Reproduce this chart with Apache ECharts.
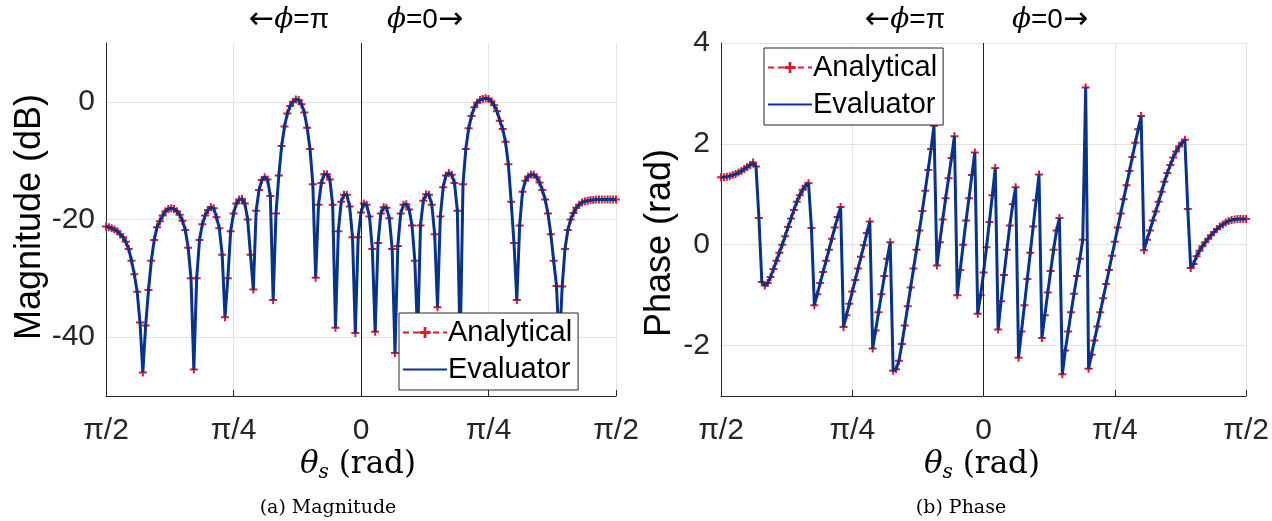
<!DOCTYPE html>
<html>
<head>
<meta charset="utf-8">
<title>Magnitude and phase</title>
<script src="https://cdn.jsdelivr.net/npm/echarts@6/dist/echarts.min.js"></script>
<style>
  html, body { margin: 0; padding: 0; background: #fff; }
  #chart { width: 1272px; height: 521px; }
</style>
</head>
<body>
<div id="chart"></div>
<script>
// steering angle grid, degrees (left half is phi = pi, right half is phi = 0)
const thetaStartDeg = -90;
const thetaStepDeg = 1;

// magnitude (dB), one value per degree from -90 to 90
const magnitudeDb = [
  -21.2, -21.3, -21.5, -21.7, -22.0, -22.5, -23.0, -23.8, -25.0, -27.0, -29.3, -32.3, -37.5,
  -46.0,
  -38.0, -32.0, -27.0, -23.5, -21.3, -20.3, -19.3, -18.6, -18.2, -18.1, -18.2, -18.6, -19.2, -20.2, -21.8, -24.8, -30.0,
  -45.5,
  -30.0, -23.5, -20.8, -19.3, -18.4, -17.9, -18.1, -19.6, -21.5, -26.0,
  -36.6,
  -30.0, -22.0, -19.0, -17.3, -16.6, -16.5, -17.3, -20.0, -26.0,
  -31.9,
  -18.5, -15.0, -13.3, -12.8, -13.2, -16.0,
  -33.7,
  -19.0, -12.5, -7.5, -4.2, -2.0, -0.7, 0.0, 0.4, 0.3, -0.4, -1.8, -4.4, -8.0, -14.0,
  -29.9,
  -17.5, -13.8, -12.3, -12.3, -13.2, -17.5,
  -38.4,
  -22.0, -17.0, -15.8, -15.8, -17.8, -23.0,
  -39.3,
  -23.0, -18.8, -17.3, -17.5, -19.5, -25.0,
  -39.1,
  -24.0, -19.0, -17.9, -18.0, -19.8, -25.0,
  -42.7,
  -24.5, -19.0, -17.5, -17.4, -18.3, -21.0, -27.0,
  -40.0,
  -21.0, -16.8, -15.7, -15.8, -17.5, -22.5,
  -34.9,
  -19.5, -14.5, -12.5, -12.1, -12.4, -13.8, -18.5,
  -42.0,
  -14.0, -8.0, -4.5, -2.4, -0.9, -0.1, 0.3, 0.5, 0.6, 0.5, 0.1, -0.6, -1.6, -3.2, -4.6, -6.8, -10.6, -17.0, -24.0,
  -33.7,
  -21.0, -15.3, -13.4, -12.7, -12.4, -12.4, -12.8, -13.7, -15.0, -16.6, -19.0, -22.5, -27.0, -31.3,
  -42.0,
  -31.4, -25.0, -21.8, -20.0, -18.9, -18.0, -17.5, -17.1, -16.9, -16.8, -16.7, -16.7, -16.6, -16.6, -16.6, -16.6, -16.6, -16.6, -16.6, -16.6
];

// phase (rad), same grid
const phaseRad = [
  1.34, 1.34, 1.35, 1.36, 1.38, 1.40, 1.43, 1.46, 1.50, 1.54, 1.58, 1.63, 1.55,
  0.53,
  -0.74, -0.81, -0.76, -0.64, -0.48, -0.32, -0.16, 0.00, 0.17, 0.35, 0.52, 0.69, 0.85, 0.98, 1.09, 1.17, 1.22,
  0.33,
  -1.20, -0.98, -0.76, -0.54, -0.32, -0.10, 0.12, 0.34, 0.55, 0.75,
  -1.63,
  -1.40, -1.17, -0.93, -0.70, -0.47, -0.24, -0.01, 0.23, 0.46,
  -2.06,
  -1.70, -1.34, -0.98, -0.62, -0.28, 0.05,
  -2.50,
  -2.47, -2.30, -1.97, -1.60, -1.22, -0.85, -0.47, -0.10, 0.28, 0.67, 1.07, 1.48, 1.90, 2.36,
  -0.41,
  0.05, 0.50, 0.92, 1.32, 1.72, 2.15,
  -1.00,
  -0.50, 0.00, 0.48, 0.92, 1.38, 1.83,
  -1.37,
  -1.00, -0.55, -0.05, 0.45, 0.98, 1.52,
  -1.68,
  -1.12, -0.60, -0.10, 0.38, 0.80, 1.14,
  -2.24,
  -1.72, -1.20, -0.68, -0.16, 0.36, 0.88, 1.39,
  -1.85,
  -1.40, -0.95, -0.52, -0.10, 0.28, 0.53,
  -2.57,
  -2.10, -1.72, -1.34, -0.97, -0.62, -0.28, 0.10,
  3.12,
  -2.46, -2.18, -1.90, -1.62, -1.34, -1.06, -0.78, -0.50, -0.22, 0.06, 0.34, 0.62, 0.90, 1.18, 1.46, 1.74, 2.02, 2.29, 2.55,
  -0.11,
  0.10, 0.28, 0.48, 0.66, 0.85, 1.05, 1.25, 1.42, 1.58, 1.73, 1.85, 1.95, 2.02, 2.08,
  0.71,
  -0.46, -0.38, -0.23, -0.12, -0.03, 0.05, 0.12, 0.19, 0.25, 0.31, 0.36, 0.40, 0.44, 0.47, 0.49, 0.50, 0.51, 0.51, 0.51, 0.51
];

const xTickLabels = { '-90': 'π/2', '-45': 'π/4', '0': '0', '45': 'π/4', '90': 'π/2' };
const magTickLabels = [-40, -20, 0];
const phaseTickLabels = [-2, 0, 2, 4];
const seriesNames = ['Analytical', 'Evaluator'];

const RED = '#d21e2e';
const BLUE = '#08338a';
const AXIS = '#262626';
const GRID = '#e2e2e2';
const PLUS = 'path://M3,0H5V3H8V5H5V8H3V5H0V3H3Z';

function toPairs(values) {
  return values.map((v, i) => [thetaStartDeg + i * thetaStepDeg, v]);
}

function xAxisFor(gridIndex) {
  return {
    type: 'value', gridIndex: gridIndex, min: -90, max: 90, interval: 45,
    axisLine: { show: true, onZero: false, lineStyle: { color: AXIS, width: 1 } },
    axisTick: { show: true, inside: true, length: 6, lineStyle: { color: AXIS } },
    axisLabel: {
      fontSize: 30, color: AXIS, margin: 20, fontFamily: 'Liberation Sans',
      formatter: v => xTickLabels[String(v)] || ''
    },
    splitLine: { show: true, lineStyle: { color: GRID, width: 1 } }
  };
}

function yAxisFor(gridIndex, min, max, shown) {
  return {
    type: 'value', gridIndex: gridIndex, min: min, max: max, interval: min < -10 ? 10 : 1,
    axisLine: { show: true, onZero: false, lineStyle: { color: AXIS, width: 1 } },
    axisTick: { show: false },
    axisLabel: {
      fontSize: 30, color: AXIS, margin: 11, fontFamily: 'Liberation Sans',
      formatter: v => shown.indexOf(v) >= 0 ? String(v) : ''
    },
    // only every other tick gets a grid line
    splitLine: { show: true, lineStyle: { color: ['rgba(0,0,0,0)', GRID], width: 1 } }
  };
}

function panelSeries(gridIndex, values) {
  const data = toPairs(values);
  return [
    {
      name: seriesNames[0], type: 'line', xAxisIndex: gridIndex, yAxisIndex: gridIndex,
      data: data, symbol: PLUS, symbolSize: 8, showAllSymbol: true,
      itemStyle: { color: RED },
      lineStyle: { color: RED, width: 1.6, type: [6, 4] },
      z: 2,
      markLine: {
        silent: true, symbol: 'none', label: { show: false },
        lineStyle: { color: '#222', width: 1, type: 'solid' },
        data: [{ xAxis: 0 }]
      }
    },
    {
      name: seriesNames[1], type: 'line', xAxisIndex: gridIndex, yAxisIndex: gridIndex,
      data: data, symbol: 'none',
      lineStyle: { color: BLUE, width: 3 },
      z: 3
    }
  ];
}

function legendAt(left, top) {
  return {
    left: left, top: top, orient: 'vertical', selectedMode: false,
    data: [
      { name: seriesNames[0] },
      { name: seriesNames[1], itemStyle: { opacity: 0 } }
    ],
    backgroundColor: '#fff', borderColor: AXIS, borderWidth: 1, borderRadius: 0,
    padding: [5, 6, 6, 3], itemGap: 8, itemWidth: 44, itemHeight: 14,
    textStyle: { fontSize: 29, color: '#000', fontFamily: 'Liberation Sans', padding: [0, 0, 0, -4] }
  };
}

function phiText(x, text) {
  return {
    type: 'text', x: x, y: 20,
    style: {
      text: text, fill: '#000', align: 'center', verticalAlign: 'middle',
      rich: {
        a: { fontSize: 28, fontFamily: 'Liberation Sans', fill: '#000' },
        w: { fontSize: 30, fontFamily: 'DejaVu Sans', fill: '#000' },
        p: { fontSize: 28, fontFamily: 'DejaVu Serif', fontStyle: 'italic', fill: '#000' }
      }
    }
  };
}
function thetaName(x) {
  return {
    type: 'text', x: x, y: 465,
    style: {
      text: '{t|θ}{s|s}{r| (rad)}', align: 'center', verticalAlign: 'middle',
      rich: {
        t: { fontSize: 31, fontFamily: 'DejaVu Serif', fontStyle: 'italic', fill: '#000' },
        s: { fontSize: 20, fontFamily: 'DejaVu Serif', fontStyle: 'italic', fill: '#000', padding: [16, 0, 0, 0] },
        r: { fontSize: 31, fontFamily: 'DejaVu Serif', fill: '#000' }
      }
    }
  };
}
function caption(x, text) {
  return {
    type: 'text', x: x, y: 508,
    style: { text: text, align: 'center', verticalAlign: 'middle', font: '19px DejaVu Serif', fill: '#000' }
  };
}
function yName(x, y, text) {
  return {
    type: 'text', x: x, y: y, rotation: Math.PI / 2,
    style: { text: text, align: 'center', verticalAlign: 'middle', font: '36px Liberation Sans', fill: '#000' }
  };
}

const chart = echarts.init(document.getElementById('chart'));
chart.setOption({
  animation: false,
  backgroundColor: '#fff',
  grid: [
    { left: 106, top: 43, width: 510, height: 353 },
    { left: 721, top: 43, width: 528, height: 353 }
  ],
  xAxis: [xAxisFor(0), xAxisFor(1)],
  yAxis: [yAxisFor(0, -50, 10, magTickLabels), yAxisFor(1, -3, 4, phaseTickLabels)],
  legend: [legendAt(399, 313), legendAt(764, 48)],
  series: panelSeries(0, magnitudeDb).concat(panelSeries(1, phaseRad)),
  graphic: [
    phiText(289, '{w|←}{p|ϕ}{a|=π}'),
    phiText(425, '{p|ϕ}{a|=0}{w|→}'),
    phiText(905, '{w|←}{p|ϕ}{a|=π}'),
    phiText(1050, '{p|ϕ}{a|=0}{w|→}'),
    yName(30, 217, 'Magnitude (dB)'),
    yName(660, 243, 'Phase (rad)'),
    thetaName(358),
    thetaName(982),
    caption(328, '(a) Magnitude'),
    caption(961, '(b) Phase')
  ]
});
</script>
</body>
</html>
